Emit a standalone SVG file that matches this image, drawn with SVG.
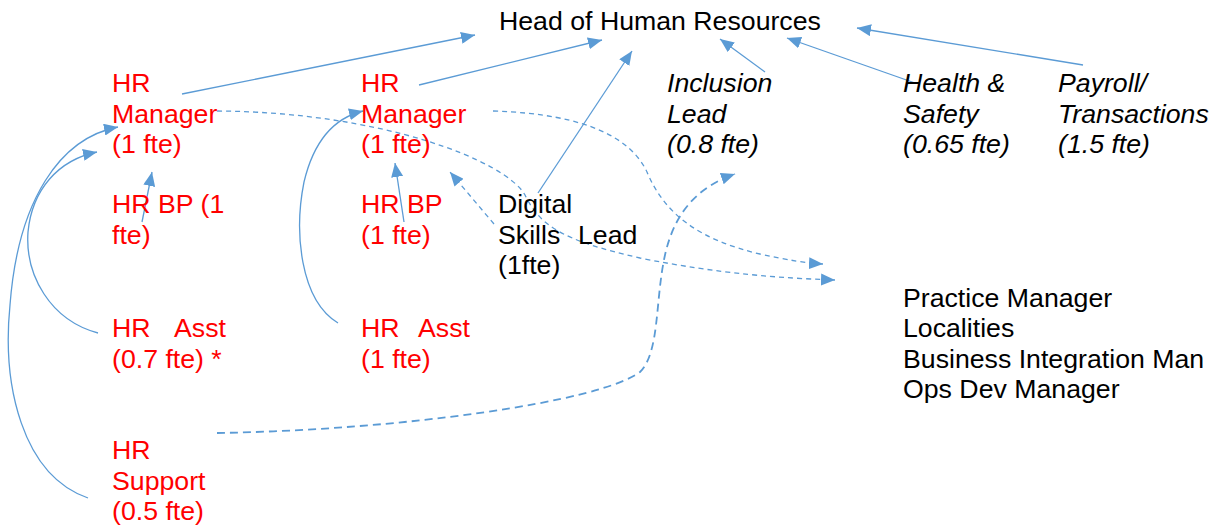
<svg xmlns="http://www.w3.org/2000/svg" width="1220" height="526" viewBox="0 0 1220 526">
  <style>
    text { font-family: "Liberation Sans", Arial, sans-serif; font-size: 26.7px; }
    .red { fill: #ff0000; }
    .blk { fill: #000000; }
    .it { font-style: italic; fill: #000000; }
    .ln { fill: none; stroke: #5b9bd5; stroke-width: 1.3; }
    .dash { fill: none; stroke: #5b9bd5; stroke-width: 1.3; stroke-dasharray: 5 4; }
    .dash2 { fill: none; stroke: #5b9bd5; stroke-width: 1.8; stroke-dasharray: 8 5; }
  </style>
  <defs>
    <marker id="arr" viewBox="0 0 14 12" refX="14" refY="6" markerWidth="14" markerHeight="12" markerUnits="userSpaceOnUse" orient="auto">
      <path d="M0,0 L14,6 L0,12 z" fill="#5b9bd5"/>
    </marker>
  </defs>

  <rect width="1220" height="526" fill="#ffffff"/>

  <!-- connectors -->
  <g id="connectors">
    <!-- solid reporting lines to the head -->
    <path class="ln" d="M182,94 L475,35" marker-end="url(#arr)"/>
    <path class="ln" d="M419,85 L602,40" marker-end="url(#arr)"/>
    <path class="ln" d="M538,193 L632,51" marker-end="url(#arr)"/>
    <path class="ln" d="M765,72 L720,39" marker-end="url(#arr)"/>
    <path class="ln" d="M915,83 L787,38" marker-end="url(#arr)"/>
    <path class="ln" d="M1083,65 L857,28" marker-end="url(#arr)"/>

    <!-- left team -->
    <path class="ln" d="M142,222 L152,172" marker-end="url(#arr)"/>
    <path class="ln" d="M98,333 C50,320 25,275 28,232 C32,190 58,160 97,152" marker-end="url(#arr)"/>
    <path class="ln" d="M88,498 C22,475 2,385 10,305 C18,200 60,138 118,127" marker-end="url(#arr)"/>

    <!-- second team -->
    <path class="ln" d="M404,222 L395,163" marker-end="url(#arr)"/>
    <path class="ln" d="M338,323 C300,300 294,232 304,182 C314,140 334,118 363,111" marker-end="url(#arr)"/>

    <!-- dashed links -->
    <path class="dash" d="M217,111 C380,112 505,160 525,195 C540,225 560,240 640,258 C720,274 780,278 835,280" marker-end="url(#arr)"/>
    <path class="dash" d="M493,111 C590,114 632,140 647,172 C665,215 700,240 760,254 C788,260 805,263 823,264" marker-end="url(#arr)"/>
    <path class="dash" d="M494,224 L450,172" marker-end="url(#arr)"/>
    <path class="dash2" d="M217,433 C400,430 600,402 640,372 C660,352 655,300 665,255 C675,210 700,186 735,174" marker-end="url(#arr)"/>
  </g>

  <g id="head">
    <text class="blk" x="499" y="30">Head of Human Resources</text>
  </g>

  <g id="hr-manager-1">
    <text class="red" x="112" y="92">HR</text>
    <text class="red" x="112" y="122.5">Manager</text>
    <text class="red" x="112" y="153">(1 fte)</text>
  </g>
  <g id="hr-bp-1">
    <text class="red" x="112" y="213">HR BP (1</text>
    <text class="red" x="112" y="243.5">fte)</text>
  </g>
  <g id="hr-asst-1">
    <text class="red" y="337"><tspan x="112">HR</tspan><tspan x="174">Asst</tspan></text>
    <text class="red" x="112" y="368">(0.7 fte) *</text>
  </g>
  <g id="hr-support">
    <text class="red" x="112" y="459">HR</text>
    <text class="red" x="112" y="490">Support</text>
    <text class="red" x="112" y="520">(0.5 fte)</text>
  </g>

  <g id="hr-manager-2">
    <text class="red" x="361" y="92">HR</text>
    <text class="red" x="361" y="122.5">Manager</text>
    <text class="red" x="361" y="153">(1 fte)</text>
  </g>
  <g id="hr-bp-2">
    <text class="red" x="361" y="213">HR BP</text>
    <text class="red" x="361" y="243.5">(1 fte)</text>
  </g>
  <g id="hr-asst-2">
    <text class="red" y="337"><tspan x="361">HR</tspan><tspan x="418">Asst</tspan></text>
    <text class="red" x="361" y="368">(1 fte)</text>
  </g>

  <g id="digital-skills">
    <text class="blk" x="498" y="213">Digital</text>
    <text class="blk" y="243.5"><tspan x="498">Skills</tspan><tspan x="578">Lead</tspan></text>
    <text class="blk" x="498" y="274">(1fte)</text>
  </g>

  <g id="inclusion-lead">
    <text class="it" x="667" y="92">Inclusion</text>
    <text class="it" x="667" y="122.5">Lead</text>
    <text class="it" x="667" y="153">(0.8 fte)</text>
  </g>
  <g id="health-safety">
    <text class="it" x="903" y="92">Health &amp;</text>
    <text class="it" x="903" y="122.5">Safety</text>
    <text class="it" x="903" y="153">(0.65 fte)</text>
  </g>
  <g id="payroll">
    <text class="it" x="1058" y="92">Payroll/</text>
    <text class="it" x="1058" y="122.5">Transactions</text>
    <text class="it" x="1058" y="153">(1.5 fte)</text>
  </g>

  <g id="managers">
    <text class="blk" x="903" y="307">Practice Manager</text>
    <text class="blk" x="903" y="337">Localities</text>
    <text class="blk" x="903" y="367.5">Business Integration Man</text>
    <text class="blk" x="903" y="398">Ops Dev Manager</text>
  </g>
</svg>
